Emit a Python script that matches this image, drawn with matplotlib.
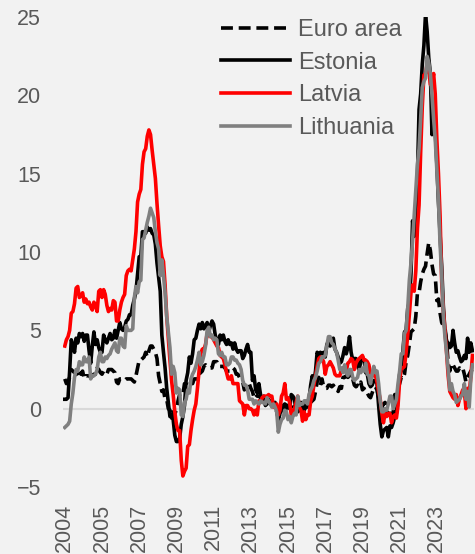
import matplotlib
matplotlib.use("Agg")
import matplotlib.pyplot as plt
import numpy as np

plt.rcParams["font.family"] = ["Liberation Sans", "DejaVu Sans"]

# Annual HICP inflation, %, monthly from Jan 2004 to Jan 2025 (one row per year)
euro_area = [
    1.9, 1.6, 1.7, 2.0, 2.5, 2.4, 2.3, 2.3, 2.1, 2.4, 2.2, 2.4,
    1.9, 2.1, 2.1, 2.1, 2.0, 2.1, 2.2, 2.2, 2.6, 2.5, 2.3, 2.2,
    2.4, 2.3, 2.2, 2.5, 2.5, 2.5, 2.4, 2.3, 1.7, 1.6, 1.9, 1.9,
    1.8, 1.8, 1.9, 1.9, 1.9, 1.9, 1.8, 1.7, 2.1, 2.6, 3.1, 3.1,
    3.2, 3.3, 3.6, 3.3, 3.7, 4.0, 4.0, 3.8, 3.6, 3.2, 2.1, 1.6,
    1.1, 1.2, 0.6, 0.6, 0.0, -0.1, -0.6, -0.2, -0.3, -0.1, 0.5, 0.9,
    1.0, 0.9, 1.6, 1.6, 1.7, 1.5, 1.7, 1.6, 1.9, 1.9, 1.9, 2.2,
    2.3, 2.4, 2.7, 2.8, 2.7, 2.7, 2.6, 2.6, 3.0, 3.0, 3.0, 2.7,
    2.7, 2.7, 2.7, 2.6, 2.4, 2.4, 2.4, 2.6, 2.6, 2.5, 2.2, 2.2,
    2.0, 1.8, 1.7, 1.2, 1.4, 1.6, 1.6, 1.3, 1.1, 0.7, 0.9, 0.8,
    0.8, 0.7, 0.5, 0.7, 0.5, 0.5, 0.4, 0.4, 0.3, 0.4, 0.3, -0.2,
    -0.6, -0.3, -0.1, 0.2, 0.3, 0.2, 0.2, 0.1, -0.1, 0.1, 0.1, 0.2,
    0.3, -0.2, 0.0, -0.2, -0.1, 0.1, 0.2, 0.2, 0.4, 0.5, 0.6, 1.1,
    1.7, 2.0, 1.5, 1.9, 1.4, 1.3, 1.3, 1.5, 1.5, 1.4, 1.5, 1.3,
    1.3, 1.1, 1.4, 1.3, 2.0, 2.0, 2.1, 2.0, 2.1, 2.2, 1.9, 1.5,
    1.4, 1.5, 1.4, 1.7, 1.2, 1.3, 1.0, 1.0, 0.8, 0.7, 1.0, 1.3,
    1.4, 1.2, 0.7, 0.3, 0.1, 0.3, 0.4, -0.2, -0.3, -0.3, -0.3, -0.3,
    0.9, 0.9, 1.3, 1.6, 2.0, 1.9, 2.2, 3.0, 3.4, 4.1, 4.9, 5.0,
    5.1, 5.9, 7.4, 7.4, 8.1, 8.6, 8.9, 9.1, 9.9, 10.6, 10.1, 9.2,
    8.6, 8.5, 6.9, 7.0, 6.1, 5.5, 5.3, 5.2, 4.3, 2.9, 2.4, 2.9,
    2.8, 2.6, 2.4, 2.4, 2.6, 2.5, 2.6, 2.2, 1.7, 2.0, 2.2, 2.4,
    2.5,
]

estonia = [
    0.6, 0.6, 0.7, 2.4, 4.4, 4.1, 3.6, 4.5, 4.2, 4.8, 4.6, 4.8,
    4.3, 4.7, 4.7, 3.7, 2.9, 4.0, 4.9, 4.1, 4.4, 3.9, 3.6, 3.6,
    4.7, 4.4, 4.2, 4.5, 4.8, 4.4, 4.5, 5.0, 4.5, 5.0, 5.5, 5.1,
    5.0, 5.2, 5.6, 5.7, 6.0, 6.0, 6.6, 7.0, 7.5, 8.6, 9.7, 9.7,
    11.3, 11.3, 11.2, 11.6, 11.4, 11.5, 11.2, 11.1, 10.5, 9.3, 8.4, 7.5,
    4.7, 3.6, 2.6, 1.3, 0.4, -0.5, -0.4, -0.7, -1.7, -2.1, -2.1, -1.9,
    -1.0, -0.5, 0.2, 1.8, 2.3, 3.3, 2.9, 3.5, 4.4, 4.5, 5.0, 5.4,
    5.1, 5.5, 5.1, 5.3, 5.5, 4.9, 5.3, 5.6, 5.4, 4.7, 4.4, 4.1,
    4.7, 4.4, 4.7, 4.3, 4.1, 4.4, 4.1, 4.2, 3.8, 4.2, 3.8, 3.6,
    3.7, 3.7, 3.2, 3.4, 3.8, 4.1, 3.6, 3.6, 1.8, 2.1, 1.2, 1.0,
    1.6, 0.9, 0.4, 0.8, 0.2, 0.3, 0.6, 0.3, 0.5, 0.2, 0.4, 0.1,
    -0.8, -0.3, -0.1, 0.2, -0.3, 0.1, 0.2, 0.0, 0.9, 0.8, 0.6, -0.2,
    -0.2, -0.1, 0.4, 0.0, 0.3, 0.4, 0.1, 0.6, 1.5, 2.1, 1.7, 2.4,
    3.6, 3.4, 3.6, 3.5, 3.6, 3.3, 4.1, 4.3, 4.0, 4.3, 4.5, 3.8,
    3.6, 3.3, 2.9, 3.0, 3.4, 3.9, 3.5, 3.9, 4.6, 3.6, 3.1, 3.2,
    3.2, 2.8, 2.4, 3.1, 3.3, 3.1, 2.3, 2.2, 1.6, 1.4, 1.5, 1.8,
    1.8, 1.6, 0.2, -1.0, -1.8, -1.4, -1.3, -1.2, -1.8, -1.1, -1.2, -0.9,
    -0.5, -0.3, 1.0, 2.2, 2.4, 3.7, 4.9, 5.0, 6.4, 6.8, 8.6, 12.0,
    11.0, 11.6, 14.8, 19.1, 20.1, 22.0, 23.2, 25.2, 24.1, 22.4, 21.4, 17.5,
    18.6, 17.8, 15.6, 13.2, 11.2, 9.1, 6.6, 5.0, 4.3, 4.2, 3.9, 4.0,
    5.0, 4.2, 3.6, 3.7, 3.3, 3.0, 3.1, 3.4, 3.2, 4.5, 3.6, 4.2,
    3.7,
]

latvia = [
    4.0, 4.4, 4.6, 5.0, 6.1, 6.2, 6.7, 7.7, 7.8, 7.1, 7.2, 7.4,
    6.8, 7.0, 6.7, 6.8, 6.5, 6.3, 6.8, 6.6, 6.2, 7.5, 7.6, 7.1,
    7.6, 7.3, 6.6, 6.2, 6.4, 6.3, 6.9, 6.8, 5.6, 5.6, 6.3, 6.8,
    7.1, 7.3, 8.5, 8.8, 8.9, 8.8, 9.5, 10.2, 11.3, 13.2, 13.7, 14.0,
    15.6, 16.4, 16.6, 17.4, 17.8, 17.5, 16.5, 15.6, 14.7, 13.1, 11.7, 10.4,
    9.7, 9.4, 7.9, 5.9, 4.5, 3.1, 1.8, 0.9, -0.2, -1.0, -1.4, -1.4,
    -3.3, -4.3, -4.0, -3.8, -2.4, -2.3, -1.4, -0.7, -0.1, 0.3, 1.3, 2.4,
    3.5, 3.8, 3.8, 4.1, 4.8, 4.7, 4.6, 4.6, 4.4, 4.2, 4.0, 3.9,
    3.4, 3.3, 3.2, 2.8, 2.3, 1.9, 1.9, 2.1, 1.6, 1.6, 1.6, 1.6,
    0.5, 0.4, 0.3, -0.4, 0.2, 0.2, 0.0, 0.0, -0.1, -0.4, -0.1, -0.4,
    0.5, 0.4, 0.7, 0.8, 0.8, 0.8, 0.9, 0.8, 0.8, 0.1, 0.2, 0.3,
    -0.4, -0.1, 0.8, 1.0, 1.6, 0.6, 0.7, 0.4, -0.4, -0.3, 0.0, 0.4,
    0.8, 0.1, -0.1, -0.8, -0.2, -0.7, -0.4, -0.4, 0.5, 0.8, 1.5, 2.1,
    2.7, 3.2, 3.3, 3.2, 3.0, 2.2, 2.7, 2.8, 3.0, 2.8, 2.6, 2.2,
    2.1, 2.1, 2.1, 2.5, 2.6, 2.4, 2.4, 2.9, 3.0, 3.2, 3.1, 2.5,
    2.9, 3.1, 3.2, 3.3, 3.4, 3.1, 3.1, 3.0, 2.8, 2.2, 2.1, 2.1,
    2.2, 1.7, 1.1, 0.6, -0.3, -0.9, -0.3, -0.5, -0.3, -0.3, -0.9, -0.5,
    -0.4, -0.6, 0.2, 1.8, 2.6, 2.6, 2.7, 3.6, 4.7, 6.0, 7.4, 7.9,
    7.5, 8.8, 11.5, 13.0, 16.4, 19.3, 21.3, 21.4, 22.0, 21.7, 20.7, 20.7,
    21.4, 20.1, 17.2, 15.0, 12.3, 8.1, 6.3, 5.0, 3.6, 2.1, 1.1, 0.9,
    0.7, 0.6, 0.9, 0.2, 0.6, 0.9, 1.2, 1.1, 0.0, 1.3, 1.0, 2.0,
    3.4,
]

lithuania = [
    -1.2, -1.1, -1.0, -0.8, 0.3, 1.0, 2.0, 2.5, 2.4, 3.0, 2.8, 2.8,
    3.3, 3.0, 3.0, 3.3, 1.9, 2.1, 2.1, 2.2, 2.5, 3.3, 3.6, 3.0,
    3.0, 3.3, 3.2, 3.4, 3.5, 3.8, 4.0, 4.2, 3.7, 3.6, 4.5, 4.5,
    4.0, 3.9, 5.3, 5.0, 5.0, 5.0, 5.1, 7.1, 7.8, 7.4, 8.1, 8.2,
    10.8, 10.9, 11.4, 11.9, 12.3, 12.8, 12.5, 12.2, 11.3, 10.6, 10.2, 8.5,
    9.5, 8.5, 7.4, 5.9, 4.9, 3.9, 2.2, 2.7, 2.3, 1.0, 1.3, 1.2,
    -0.4, -0.5, 0.4, 0.6, 1.2, 1.0, 1.9, 2.2, 2.4, 2.7, 3.1, 3.6,
    2.8, 3.0, 3.4, 4.0, 5.0, 5.2, 4.6, 4.7, 4.4, 4.5, 4.4, 3.5,
    3.4, 3.6, 3.3, 3.3, 2.8, 2.8, 2.9, 3.3, 3.3, 3.1, 3.1, 2.9,
    2.8, 2.5, 1.8, 1.5, 1.5, 1.2, 0.6, 0.6, 0.6, 0.3, 0.5, 0.4,
    0.3, 0.5, 0.4, 0.4, 0.3, 0.7, 0.5, 0.3, 0.1, 0.3, 0.1, -0.2,
    -1.5, -1.0, -0.7, -0.6, -0.1, -0.2, -0.7, -0.5, -0.9, -0.5, -0.3, -0.4,
    0.8, 0.2, 0.3, 0.3, 0.5, 0.5, 0.3, 0.9, 1.2, 1.4, 1.8, 2.0,
    2.4, 2.9, 3.0, 3.3, 3.3, 3.4, 4.0, 4.6, 4.6, 4.2, 4.1, 3.8,
    3.6, 3.1, 2.5, 2.6, 2.3, 2.8, 2.3, 2.1, 2.5, 2.5, 2.0, 1.8,
    1.9, 2.0, 2.5, 2.3, 2.6, 2.4, 2.9, 2.2, 2.1, 1.6, 2.2, 2.7,
    2.3, 2.4, 1.6, 0.5, -0.2, -0.2, 0.0, -0.1, 0.3, 0.8, 0.8, 0.0,
    0.3, 0.6, 1.6, 2.4, 3.5, 3.5, 4.8, 5.0, 6.4, 8.2, 9.3, 10.7,
    12.3, 14.0, 15.6, 16.6, 18.5, 20.5, 20.9, 21.1, 22.5, 22.1, 21.4, 20.0,
    18.5, 17.2, 15.2, 13.3, 10.5, 8.5, 6.0, 4.6, 3.6, 2.5, 1.2, 1.6,
    1.1, 0.9, 0.4, 0.5, 0.6, 0.8, 0.9, 1.6, 0.6, 1.1, 0.1, 1.9,
    2.8,
]

series = [
    ("Euro area", euro_area, "#000000", (0, (3.3, 1.6))),
    ("Estonia", estonia, "#000000", "-"),
    ("Latvia", latvia, "#FF0000", "-"),
    ("Lithuania", lithuania, "#808080", "-"),
]

# category axis labels: Excel shows one label every 23 months
tick_months = [0, 23, 46, 69, 92, 115, 138, 161, 184, 207, 230]
tick_labels = ["2004", "2005", "2007", "2009", "2011", "2013",
               "2015", "2017", "2019", "2021", "2023"]

text_color = "#595959"
bg = "#F2F2F2"

fig = plt.figure(figsize=(4.75, 5.54), dpi=100, facecolor=bg)
ax = fig.add_axes([0.133, 0.121, 0.865, 0.848], facecolor=bg)

x = np.arange(len(euro_area))
ax.axhline(0, color="#D9D9D9", lw=1.5, zorder=1)
for name, vals, color, ls in series:
    ax.plot(x, vals, color=color, lw=2.6, ls=ls, label=name, zorder=2)

ax.set_xlim(-1, len(euro_area))
ax.set_ylim(-5, 25)
ax.set_yticks(range(-5, 26, 5))
ax.set_xticks(tick_months)
ax.set_xticklabels(tick_labels, rotation=90)
ax.tick_params(axis="both", length=0, labelsize=15.5, colors=text_color)
ax.tick_params(axis="y", pad=16)
ax.tick_params(axis="x", pad=12)
for sp in ax.spines.values():
    sp.set_visible(False)

leg = ax.legend(loc="upper left", bbox_to_anchor=(0.385, 0.996), frameon=False,
                fontsize=17, handlelength=2.9, handletextpad=0.35,
                labelspacing=0.45, borderpad=0, borderaxespad=0)
for t in leg.get_texts():
    t.set_color(text_color)

fig.savefig("out.png", dpi=100, facecolor=bg)
